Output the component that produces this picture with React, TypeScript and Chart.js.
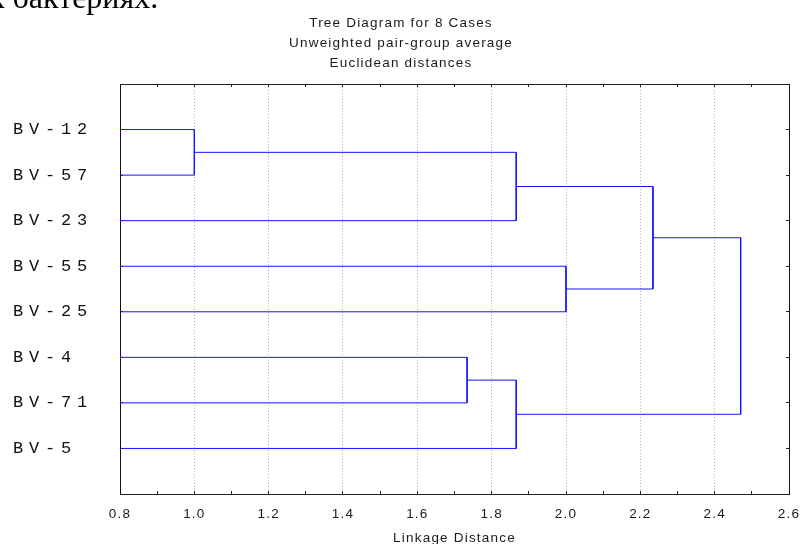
import React, { useEffect, useRef } from 'react';
import { Chart, registerables } from 'chart.js';

Chart.register(...registerables);

// ---- data ----
const leafLabels = ['BV-12', 'BV-57', 'BV-23', 'BV-55', 'BV-25', 'BV-4', 'BV-71', 'BV-5'];
// cluster ids: 0..7 are leaves, 8.. are the merges below, in order
const mergeLeft = [0, 8, 3, 9, 5, 12, 11];
const mergeRight = [1, 2, 4, 10, 6, 7, 13];
const mergeHeight = [1.0, 1.866, 2.0, 2.234, 1.734, 1.866, 2.47];
const xTickValues = [0.8, 0.9, 1.0, 1.1, 1.2, 1.3, 1.4, 1.5, 1.6, 1.7, 1.8, 1.9, 2.0, 2.1, 2.2, 2.3, 2.4, 2.5, 2.6];
const titleLines = ['Tree Diagram for 8 Cases', 'Unweighted pair-group average', 'Euclidean distances'];
const xAxisTitle = 'Linkage Distance';
const pageText = 'к бактериях.';

const X_MIN = 0.8;
const X_MAX = 2.6;
const LINE_COLOR = '#1414ff';
const SANS = "'Liberation Sans', Arial, sans-serif";
const MONO = "'Liberation Mono', 'Courier New', monospace";

function buildLinks() {
  const nodes: { x: number; y: number }[] = leafLabels.map((_, i) => ({ x: X_MIN, y: i + 1 }));
  const links: { x: number; y: number }[][] = [];
  for (let m = 0; m < mergeHeight.length; m++) {
    const a = nodes[mergeLeft[m]];
    const b = nodes[mergeRight[m]];
    const h = mergeHeight[m];
    links.push([
      { x: a.x, y: a.y },
      { x: h, y: a.y },
      { x: h, y: b.y },
      { x: b.x, y: b.y },
    ]);
    nodes.push({ x: h, y: (a.y + b.y) / 2 });
  }
  return links;
}

const spacingPlugin = {
  id: 'letterSpacing',
  beforeDraw(chart: any) {
    const ctx = chart.ctx;
    ctx.letterSpacing = '1.2px';
    const y = chart.scales.y;
    if (y && !y.__patched) {
      const orig = y.drawLabels.bind(y);
      y.drawLabels = (area: any) => {
        const prev = ctx.letterSpacing;
        ctx.letterSpacing = '5.8px';
        orig(area);
        ctx.letterSpacing = prev;
      };
      y.__patched = true;
    }
  },
  afterDraw(chart: any) {
    chart.ctx.letterSpacing = '0px';
  },
};

export default function App() {
  const ref = useRef<HTMLCanvasElement>(null);

  useEffect(() => {
    const canvas = ref.current;
    if (!canvas) return;
    const links = buildLinks();
    const rowTicks = leafLabels.map((_, i) => ({ value: i + 1 }));

    const chart = new Chart(canvas, {
      type: 'scatter',
      data: {
        datasets: links.map((pts) => ({
          data: pts,
          showLine: true,
          borderColor: LINE_COLOR,
          borderWidth: 1,
          pointRadius: 0,
          fill: false,
        })),
      },
      plugins: [spacingPlugin],
      options: {
        responsive: false,
        animation: false,
        events: [],
        layout: { padding: { left: 13, right: 91, top: 0, bottom: 0 } },
        plugins: {
          legend: { display: false },
          tooltip: { enabled: false },
          title: {
            display: true,
            text: titleLines,
            color: '#1a1a1a',
            font: { family: SANS, size: 13.5, weight: 'normal', lineHeight: '20px' },
            padding: { top: 13, bottom: 11 },
          },
        },
        scales: {
          x: {
            type: 'linear',
            position: 'bottom',
            min: X_MIN,
            max: X_MAX,
            afterBuildTicks: (s: any) => {
              s.ticks = xTickValues.map((v) => ({ value: v }));
            },
            afterFit: (s: any) => {
              s.height = 56;
            },
            ticks: {
              autoSkip: false,
              maxRotation: 0,
              padding: 15,
              color: '#1a1a1a',
              font: { family: SANS, size: 13.5 },
              callback: (v: any, i: number) => (i % 2 === 0 ? Number(v).toFixed(1) : ''),
            },
            grid: {
              color: (c: any) =>
                c.index % 2 === 0 && c.index > 0 && c.index < xTickValues.length - 1 ? '#b4b4b4' : 'rgba(0,0,0,0)',
              lineWidth: 1,
              drawTicks: true,
              tickLength: -3,
              tickColor: '#222',
              tickWidth: 1,
            },
            border: { display: true, color: '#222', width: 1, dash: [1, 2] },
            title: {
              display: true,
              text: xAxisTitle,
              color: '#1a1a1a',
              font: { family: SANS, size: 13.5 },
              padding: { top: 0, bottom: 4 },
            },
          },
          x2: {
            type: 'linear',
            position: 'top',
            min: X_MIN,
            max: X_MAX,
            afterBuildTicks: (s: any) => {
              s.ticks = xTickValues.map((v) => ({ value: v }));
            },
            afterFit: (s: any) => {
              s.height = 0;
            },
            ticks: { display: false },
            grid: { drawOnChartArea: false, drawTicks: true, tickLength: -3, tickColor: '#222' },
            border: { display: true, color: '#222', width: 1 },
          },
          y: {
            type: 'linear',
            position: 'left',
            min: 0,
            max: 9,
            reverse: true,
            afterBuildTicks: (s: any) => {
              s.ticks = rowTicks.map((t) => ({ ...t }));
            },
            afterFit: (s: any) => {
              s.width = 107;
            },
            ticks: {
              crossAlign: 'far',
              padding: 0,
              color: '#111',
              font: { family: MONO, size: 17 },
              callback: (v: any) => leafLabels[Math.round(Number(v)) - 1] ?? '',
            },
            grid: { drawOnChartArea: false, drawTicks: true, tickLength: -3, tickColor: '#222' },
            border: { display: true, color: '#111', width: 1 },
          },
          y2: {
            type: 'linear',
            position: 'right',
            min: 0,
            max: 9,
            reverse: true,
            afterBuildTicks: (s: any) => {
              s.ticks = rowTicks.map((t) => ({ ...t }));
            },
            afterFit: (s: any) => {
              s.width = 0;
            },
            ticks: { display: false },
            grid: { drawOnChartArea: false, drawTicks: true, tickLength: -3, tickColor: '#222' },
            border: { display: true, color: '#111', width: 1 },
          },
        },
      } as any,
    });
    return () => chart.destroy();
  }, []);

  return (
    <div
      style={{
        position: 'fixed',
        left: 0,
        top: 0,
        width: 801,
        height: 544,
        overflow: 'hidden',
        background: '#fff',
      }}
    >
      <canvas ref={ref} width={880} height={550} style={{ position: 'absolute', left: 0, top: 0, display: 'block' }} />
      <div
        style={{
          position: 'absolute',
          left: -11,
          top: -19,
          fontFamily: "'Liberation Serif', 'Times New Roman', serif",
          fontSize: 32,
          lineHeight: '32px',
          whiteSpace: 'nowrap',
          color: '#000',
        }}
      >
        {pageText}
      </div>
    </div>
  );
}
